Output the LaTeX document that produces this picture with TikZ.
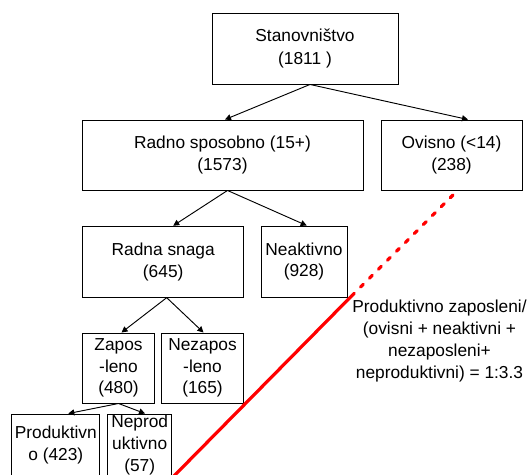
\documentclass[tikz,border=0pt]{standalone}
\usepackage{fontspec}
\setmainfont{Liberation Sans}
\usetikzlibrary{arrows.meta,calc}
\tikzset{
  box/.style={draw, line width=0.7pt, inner sep=0pt, align=center, font=\fontsize{13}{16.3}\selectfont},
  bw/.style={minimum width=#1*0.75pt},
  bh/.style={minimum height=#1*0.75pt},
  txt/.style={inner sep=0pt, align=center, font=\fontsize{13}{16.5}\selectfont},
  arr/.style={line width=0.7pt, -{Triangle[length=4.5pt,width=4.5pt]}},
  redsolid/.style={red, line width=2.4pt},
  reddash/.style={red, line width=2.4pt, line cap=round, dash pattern=on 3pt off 6.5pt},
}
\begin{document}
\begin{tikzpicture}[x=0.75pt,y=-0.75pt]
\useasboundingbox (0,0) rectangle (530,474);
\clip (0,0) rectangle (530,474);
\node[box,bw=186,bh=71] (stan) at (305,48.5) {Stanovništvo\\[1.5pt](1811 )};
\node[box,bw=281,bh=70] (radno) at (222.5,155) {Radno sposobno (15+)\\(1573)};
\node[box,bw=141,bh=70] (ovisno) at (451.5,155) {Ovisno (<14)\\(238)};
\node[box,bw=161,bh=71] (rsnaga) at (163.2,261.7) {Radna snaga\\(645)};
\node[box,bw=86,bh=71] (neakt) at (304,261.5) {Neaktivno\\(928)};
\node[box,bw=72,bh=70] (zapos) at (118.5,368) {Zapos\\-leno\\(480)};
\node[box,bw=82,bh=70] (nezapos) at (202.5,368) {Nezapos\\-leno\\(165)};
\node[box,bw=88,bh=62] (prod) at (55.8,445) {Produktivn\\o (423)};
\node[box,bw=64,bh=62] (neprod) at (139.7,445) {Neprod\\uktivno\\(57)};
\node[txt] (ratio) at (439.5,341.5) {Produktivno zaposleni/\\(ovisni + neaktivni +\\nezaposleni+\\neproduktivni) = 1:3.3};

\draw[arr] ($(stan.south)+(5,0)$) -- ($(radno.north)+(2.5,0)$);
\draw[arr] ($(stan.south)+(5,0)$) -- ($(ovisno.north)+(16.5,0)$);
\draw[arr] ($(radno.south)+(5,0)$) -- ($(rsnaga.north)+(10,0)$);
\draw[arr] ($(radno.south)+(5,0)$) -- ($(neakt.north)+(2.7,0)$);
\draw[arr] ($(rsnaga.south)+(3.5,0)$) -- ($(zapos.north)+(3,0)$);
\draw[arr] ($(rsnaga.south)+(3.5,0)$) -- ($(nezapos.north)+(1,0)$);
\draw[arr] (zapos.south) -- ($(prod.north)+(12.5,0)$);
\draw[arr] (zapos.south) -- ($(neprod.north)+(5.3,0)$);

\coordinate (r0) at (170,480);
\coordinate (r1) at (351.5,296);
\coordinate (r2) at (454,194);
\draw[redsolid] (r0) -- (r1);
\draw[reddash] (r1) -- (r2);
\end{tikzpicture}
\end{document}
